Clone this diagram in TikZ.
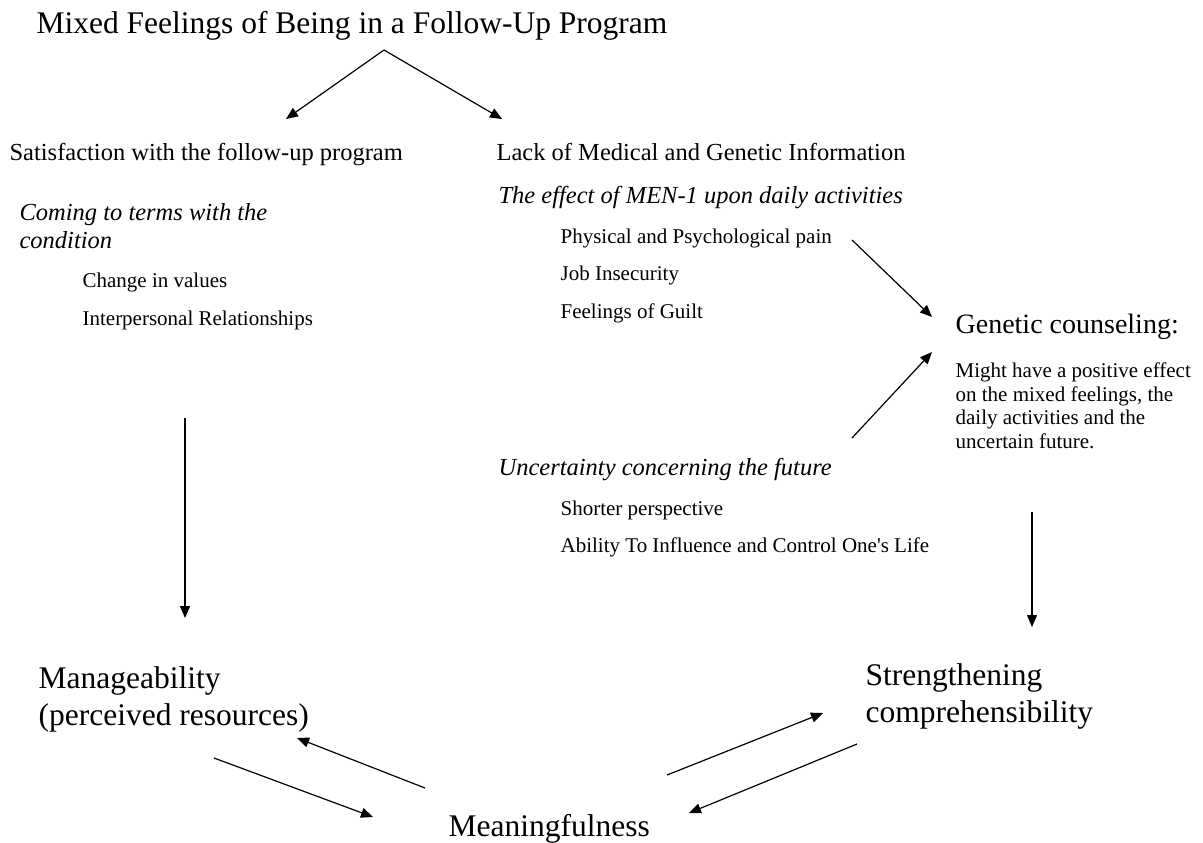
\documentclass[tikz,border=0pt]{standalone}
\usepackage{fontspec}
\setmainfont{Liberation Serif}
\usetikzlibrary{arrows.meta}

\begin{document}
\begin{tikzpicture}[x=0.5pt, y=-0.5pt, line width=0.6pt,
    lbl/.style={anchor=base west, inner sep=0pt, align=left},
    big/.style={lbl, font=\fontsize{15.75}{18.5}\selectfont},
    head/.style={lbl, font=\fontsize{12.25}{14}\selectfont},
    sub/.style={lbl, font=\fontsize{12.25}{14}\selectfont\itshape},
    item/.style={lbl, font=\fontsize{10.5}{11.75}\selectfont},
    arr/.style={-{Triangle[length=6pt,width=5pt]}}]
    \useasboundingbox (0,0) rectangle (1203,842);
    % top (multi-line nodes sit on their last line)
    \node[big] (title) at (36,33) {Mixed Feelings of Being in a Follow-Up Program};
    \node[head] (satis) at (9,160) {Satisfaction with the follow-up program};
    \node[head] (lack) at (496,160) {Lack of Medical and Genetic Information};
    % left column
    \node[sub] (cope) at (19,248) {Coming to terms with the\\condition};
    \node[item] (values) at (82,287) {Change in values};
    \node[item] (relat) at (82,325) {Interpersonal Relationships};
    % middle column
    \node[sub] (effect) at (498,203) {The effect of MEN-1 upon daily activities};
    \node[item] (pain) at (560,243) {Physical and Psychological pain};
    \node[item] (job) at (560,280) {Job Insecurity};
    \node[item] (guilt) at (560,318) {Feelings of Guilt};
    \node[sub] (future) at (498,475) {Uncertainty concerning the future};
    \node[item] (shorter) at (560,515) {Shorter perspective};
    \node[item] (control) at (560,552) {Ability To Influence and Control One\textquotesingle s Life};
    % right column
    \node[lbl, font=\fontsize{14}{16}\selectfont] (gc) at (955,333) {Genetic counseling:};
    \node[item] (gctext) at (955,448) {Might have a positive effect\\on the mixed feelings, the\\daily activities and the\\uncertain future.};
    % bottom
    \node[big] (manage) at (38,725) {Manageability\\(perceived resources)};
    \node[big] (strength) at (865,722) {Strengthening\\comprehensibility};
    \node[big] (meaning) at (448,836) {Meaningfulness};
    % arrow ends
    \coordinate (top) at (384,50);
    \coordinate (satisTip) at (286,119);
    \coordinate (lackTip) at (502,119);
    \coordinate (painEnd) at (852,240);
    \coordinate (gcIn1) at (932,317);
    \coordinate (futEnd) at (852,438);
    \coordinate (gcIn2) at (932,352);
    \coordinate (leftTop) at (185,418);
    \coordinate (manIn) at (185,618);
    \coordinate (gcOut) at (1032,512);
    \coordinate (strIn) at (1032,627);
    \coordinate (meanL) at (425,788);
    \coordinate (manBack) at (297,738);
    \coordinate (manOut) at (214,758);
    \coordinate (meanInL) at (373,817);
    \coordinate (meanR) at (667,775);
    \coordinate (strBack) at (823,713);
    \coordinate (strOut) at (857,744);
    \coordinate (meanInR) at (689,813);
    \foreach \a/\b in {top/satisTip, top/lackTip, painEnd/gcIn1, futEnd/gcIn2,
        leftTop/manIn, gcOut/strIn, meanL/manBack, manOut/meanInL,
        meanR/strBack, strOut/meanInR}
        \draw[arr] (\a) -- (\b);
\end{tikzpicture}
\end{document}
